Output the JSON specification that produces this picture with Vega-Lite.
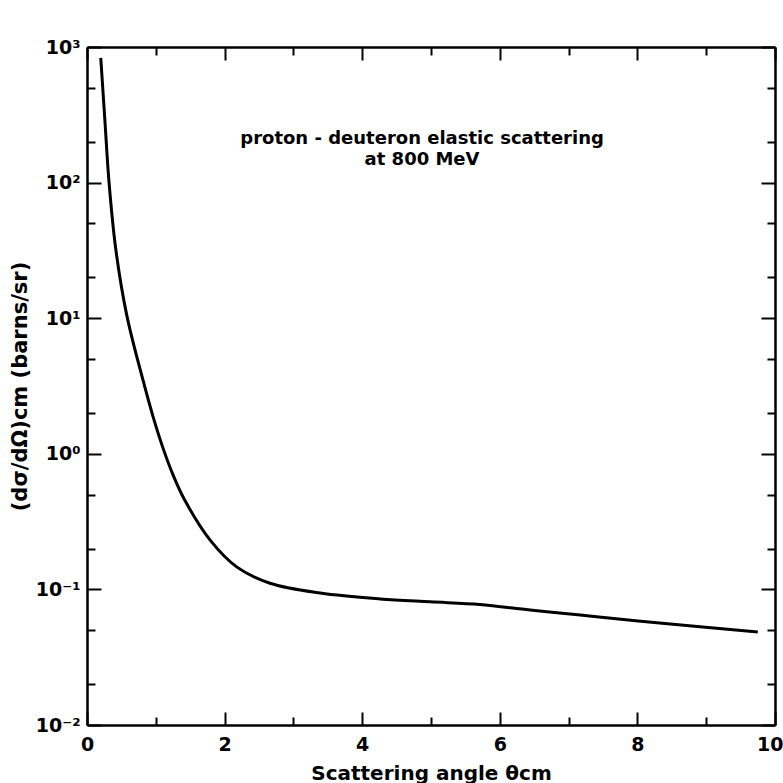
{
  "$schema": "https://vega.github.io/schema/vega-lite/v6.json",
  "autosize": {"type": "none"},
  "width": 688,
  "height": 678,
  "padding": {"left": 87, "top": 47, "right": 8, "bottom": 58},
  "background": "white",
  "config": {
    "view": {"stroke": null},
    "axis": {
      "domainColor": "black",
      "domainWidth": 2.5,
      "tickColor": "black",
      "tickWidth": 2,
      "labelColor": "black",
      "titleColor": "black",
      "labelFont": "DejaVu Sans",
      "titleFont": "DejaVu Sans",
      "labelFontWeight": "bold",
      "titleFontWeight": "bold",
      "labelFlush": false,
      "grid": false
    }
  },
  "datasets": {
    "curve": [
      {"angle": 0.20, "xs": 830},
      {"angle": 0.26, "xs": 288},
      {"angle": 0.32, "xs": 101},
      {"angle": 0.42, "xs": 31.8},
      {"angle": 0.58, "xs": 10.4},
      {"angle": 0.82, "xs": 3.40},
      {"angle": 0.96, "xs": 1.88},
      {"angle": 1.10, "xs": 1.12},
      {"angle": 1.25, "xs": 0.70},
      {"angle": 1.42, "xs": 0.456},
      {"angle": 1.79, "xs": 0.231},
      {"angle": 2.18, "xs": 0.146},
      {"angle": 2.66, "xs": 0.111},
      {"angle": 3.39, "xs": 0.094},
      {"angle": 4.26, "xs": 0.085},
      {"angle": 4.99, "xs": 0.081},
      {"angle": 5.71, "xs": 0.0775},
      {"angle": 6.44, "xs": 0.0705},
      {"angle": 7.17, "xs": 0.0648},
      {"angle": 8.01, "xs": 0.0585},
      {"angle": 9.75, "xs": 0.0485}
    ],
    "notes": [
      {"angle": 4.87, "xs": 209.7, "text": "proton - deuteron elastic scattering"},
      {"angle": 4.87, "xs": 146.8, "text": "at 800 MeV"}
    ]
  },
  "layer": [
    {
      "data": {"name": "curve"},
      "mark": {"type": "line", "color": "black", "strokeWidth": 3, "interpolate": "catmull-rom"},
      "encoding": {
        "x": {
          "field": "angle", "type": "quantitative",
          "scale": {"domain": [0, 10], "nice": false, "zero": false},
          "axis": {
            "orient": "bottom",
            "values": [0, 1, 2, 3, 4, 5, 6, 7, 8, 9, 10],
            "labelExpr": "datum.value % 2 == 0 ? datum.label : ''",
            "tickSize": {"condition": {"test": "datum.value % 2 == 0", "value": -13}, "value": -8},
            "labelAlign": {"condition": {"test": "datum.value == 10", "value": "right"}, "value": "center"},
            "labelOffset": {"condition": {"test": "datum.value == 10", "value": 8}, "value": 0},
            "labelPadding": 23,
            "labelFontSize": 19,
            "title": "Scattering angle θcm",
            "titleFontSize": 20,
            "titlePadding": 9
          }
        },
        "y": {
          "field": "xs", "type": "quantitative",
          "scale": {"type": "log", "domain": [0.01, 1000], "nice": false},
          "axis": {
            "orient": "left",
            "values": [0.01, 0.02, 0.05, 0.1, 0.2, 0.5, 1, 2, 5, 10, 20, 50, 100, 200, 500, 1000],
            "labelExpr": "datum.value == 1000 ? '10³' : datum.value == 100 ? '10²' : datum.value == 10 ? '10¹' : datum.value == 1 ? '10⁰' : datum.value == 0.1 ? '10⁻¹' : datum.value == 0.01 ? '10⁻²' : ''",
            "tickSize": {"condition": {"test": "abs(log(datum.value)/LN10 - round(log(datum.value)/LN10)) < 0.001", "value": -14}, "value": -8},
            "labelPadding": 21,
            "labelFontSize": 19,
            "title": "(dσ/dΩ)cm    (barns/sr)",
            "titleFontSize": 21,
            "titlePadding": 5
          }
        }
      }
    },
    {
      "data": {"name": "notes"},
      "mark": {"type": "text", "font": "DejaVu Sans", "fontWeight": "bold", "fontSize": 18, "color": "black", "align": "center", "baseline": "middle"},
      "encoding": {
        "x": {
          "field": "angle", "type": "quantitative",
          "axis": {
            "orient": "top",
            "values": [0, 1, 2, 3, 4, 5, 6, 7, 8, 9, 10],
            "labels": false,
            "title": null,
            "tickSize": {"condition": {"test": "datum.value % 2 == 0", "value": -13}, "value": -8}
          }
        },
        "y": {
          "field": "xs", "type": "quantitative",
          "axis": {
            "orient": "right",
            "values": [0.01, 0.02, 0.05, 0.1, 0.2, 0.5, 1, 2, 5, 10, 20, 50, 100, 200, 500, 1000],
            "labels": false,
            "title": null,
            "tickSize": {"condition": {"test": "abs(log(datum.value)/LN10 - round(log(datum.value)/LN10)) < 0.001", "value": -14}, "value": -8}
          }
        },
        "text": {"field": "text"}
      }
    }
  ],
  "resolve": {"axis": {"x": "independent", "y": "independent"}}
}
